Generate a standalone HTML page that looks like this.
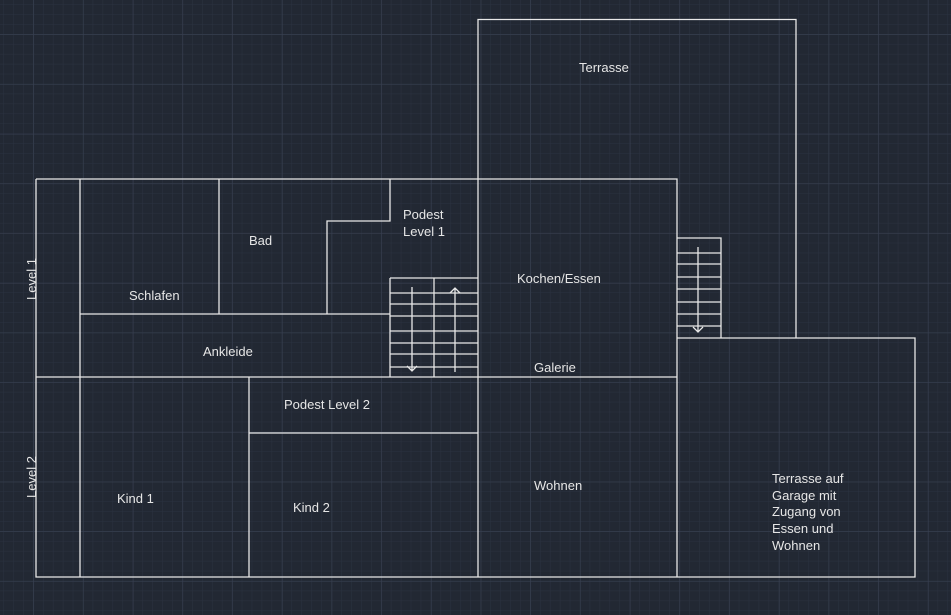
<!DOCTYPE html>
<html><head><meta charset="utf-8"><style>
html,body{margin:0;padding:0;background:#222833;}
svg{display:block}
text{font-family:"Liberation Sans",sans-serif;font-size:13px;fill:#e6e6e6}
</style></head><body>
<svg width="951" height="615" viewBox="0 0 951 615" xmlns="http://www.w3.org/2000/svg">
<defs>
<pattern id="minor" x="3.2" y="4.2" width="9.94" height="9.94" patternUnits="userSpaceOnUse">
<path d="M0 0V9.94M0 0H9.94" stroke="#2b3240" stroke-width="1" fill="none"/>
</pattern>
<pattern id="major" x="33.5" y="34.5" width="49.7" height="49.7" patternUnits="userSpaceOnUse">
<path d="M0 0V49.7M0 0H49.7" stroke="#394152" stroke-width="1" fill="none"/>
</pattern>
</defs>
<rect width="951" height="615" fill="#222833"/>
<rect width="951" height="615" fill="url(#minor)"/>
<rect width="951" height="615" fill="url(#major)"/>
<g stroke="#e8e8e8" stroke-width="1.3" fill="none">
<!-- terrasse -->
<path d="M478 179V19.5H796V338"/>
<!-- level strips & outer -->
<path d="M36 179H677V377"/>
<path d="M36 179V577H915V338H677"/>
<path d="M80 179V577"/>
<path d="M36 377H677"/>
<path d="M219 179V314"/>
<path d="M80 314H390"/>
<path d="M390 179V221H327V314"/>
<path d="M478 179V577"/>
<path d="M677 377V577"/>
<path d="M249 377V577"/>
<path d="M249 433H478"/>
<!-- left stairs -->
<path d="M390 278H478M390 278V377M434 278V377"/>
<path d="M390 293H478M390 304H478M390 316H478M390 331H478M390 343H478M390 354H478M390 367H478"/>
<path d="M412 287V371M407 366L412 371L417 366"/>
<path d="M455 372V288M450 293L455 288L460 293"/>
<!-- right stairs -->
<path d="M677 238H721V338"/>
<path d="M677 253H721M677 264H721M677 277H721M677 289H721M677 302H721M677 314H721M677 326H721"/>
<path d="M698 247V332M693 327L698 332L703 327"/>
</g>
<text x="579" y="72">Terrasse</text>
<text x="403" y="219">Podest</text>
<text x="403" y="236">Level 1</text>
<text x="249" y="245">Bad</text>
<text x="517" y="283">Kochen/Essen</text>
<text x="129" y="300">Schlafen</text>
<text x="203" y="356">Ankleide</text>
<text x="534" y="372">Galerie</text>
<text x="284" y="409">Podest Level 2</text>
<text x="534" y="490">Wohnen</text>
<text x="117" y="503">Kind 1</text>
<text x="293" y="512">Kind 2</text>
<text x="772" y="483">Terrasse auf</text>
<text x="772" y="500">Garage mit</text>
<text x="772" y="516">Zugang von</text>
<text x="772" y="533">Essen und</text>
<text x="772" y="550">Wohnen</text>
<text transform="translate(36 279) rotate(-90)" text-anchor="middle">Level 1</text>
<text transform="translate(36 477) rotate(-90)" text-anchor="middle">Level 2</text>
</svg>
</body></html>
